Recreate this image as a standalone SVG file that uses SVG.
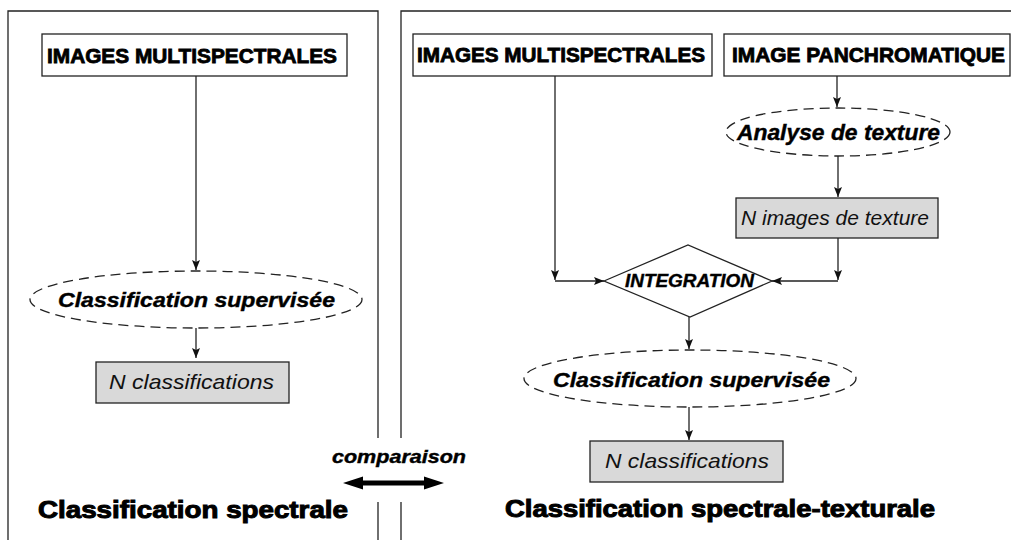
<svg xmlns="http://www.w3.org/2000/svg" width="1011" height="540" viewBox="0 0 1011 540">
<style>
.panel{fill:none;stroke:#222;stroke-width:1.3}
.box{fill:#fff;stroke:#222;stroke-width:1.3}
.gbox{fill:#d9d9d9;stroke:#222;stroke-width:1.3}
.ell{fill:#fff;stroke:#222;stroke-width:1.3;stroke-dasharray:10 6}
.dia{fill:#fff;stroke:#222;stroke-width:1.3}
.hdr{font-family:"Liberation Sans",Arial,sans-serif;font-weight:bold;font-size:20px;fill:#000;stroke:#000;stroke-width:0.8}
.proc{font-family:"Liberation Sans",Arial,sans-serif;font-weight:bold;font-style:italic;font-size:20px;fill:#000;stroke:#000;stroke-width:0.4}
.res{font-family:"Liberation Sans",Arial,sans-serif;font-style:italic;font-size:21px;fill:#111}
.title{font-family:"Liberation Sans",Arial,sans-serif;font-weight:bold;font-size:24px;fill:#000;stroke:#000;stroke-width:1}
.conn{fill:none;stroke:#222;stroke-width:1.3}
</style>
<defs>
<marker id="ah" markerUnits="userSpaceOnUse" markerWidth="12" markerHeight="10" refX="10" refY="4" orient="auto">
<path d="M0,0 L10,4 L0,8 L2,4 z" fill="#111"/>
</marker>
</defs>

<g id="panels">
<path class="panel" d="M378,438 V11 H8 V545"/>
<path class="panel" d="M378,502 V545"/>
<path class="panel" d="M401,438 V11 H1015"/>
<path class="panel" d="M401,502 V545"/>
</g>

<g id="connectors">
<line class="conn" x1="196" y1="76" x2="196" y2="270" marker-end="url(#ah)"/>
<line class="conn" x1="196" y1="328" x2="196" y2="358" marker-end="url(#ah)"/>
<line class="conn" x1="555" y1="76" x2="555" y2="280" marker-end="url(#ah)"/>
<line class="conn" x1="555" y1="281" x2="604" y2="281" marker-end="url(#ah)"/>
<line class="conn" x1="837" y1="76" x2="837" y2="107" marker-end="url(#ah)"/>
<line class="conn" x1="838" y1="156" x2="838" y2="197" marker-end="url(#ah)"/>
<line class="conn" x1="838" y1="238" x2="838" y2="280" marker-end="url(#ah)"/>
<line class="conn" x1="838" y1="281" x2="772" y2="281" marker-end="url(#ah)"/>
<line class="conn" x1="689" y1="317" x2="689" y2="349" marker-end="url(#ah)"/>
<line class="conn" x1="689" y1="407" x2="689" y2="440" marker-end="url(#ah)"/>
<polygon id="comparaison-arrow" fill="#000" points="343,483 363,476.5 363,480.5 424,480.5 424,476.5 444,483 424,489.5 424,485.5 363,485.5 363,489.5"/>
</g>

<g id="left-ms">
<rect class="box" x="42" y="34" width="305" height="42"/>
<text class="hdr" x="47" y="63" textLength="290" lengthAdjust="spacingAndGlyphs">IMAGES MULTISPECTRALES</text>
</g>
<g id="left-classif">
<ellipse class="ell" cx="196" cy="299.5" rx="166" ry="28.5"/>
<text class="proc" x="58" y="307" textLength="277" lengthAdjust="spacingAndGlyphs">Classification supervisée</text>
</g>
<g id="left-result">
<rect class="gbox" x="96" y="362" width="193" height="41"/>
<text class="res" x="109" y="389" textLength="165" lengthAdjust="spacingAndGlyphs">N classifications</text>
</g>
<g id="left-title">
<text class="title" x="38" y="518" textLength="310" lengthAdjust="spacingAndGlyphs">Classification spectrale</text>
</g>

<g id="comparaison">
<text class="proc" style="font-size:18px" x="332" y="463" textLength="134" lengthAdjust="spacingAndGlyphs">comparaison</text>
</g>

<g id="right-ms">
<rect class="box" x="413" y="34" width="299" height="42"/>
<text class="hdr" x="417" y="62" textLength="288" lengthAdjust="spacingAndGlyphs">IMAGES MULTISPECTRALES</text>
</g>
<g id="right-pan">
<rect class="box" x="724" y="34" width="286" height="42"/>
<text class="hdr" x="732" y="62" textLength="273" lengthAdjust="spacingAndGlyphs">IMAGE PANCHROMATIQUE</text>
</g>
<g id="texture-analysis">
<ellipse class="ell" cx="838" cy="132" rx="112" ry="24"/>
<text class="proc" style="font-size:22px" x="737" y="140" textLength="203" lengthAdjust="spacingAndGlyphs">Analyse de texture</text>
</g>
<g id="texture-images">
<rect class="gbox" x="736" y="198" width="202" height="40"/>
<text class="res" style="font-size:20px" x="741" y="225" textLength="188" lengthAdjust="spacingAndGlyphs">N images de texture</text>
</g>
<g id="integration">
<polygon class="dia" points="604,281 688,245 772,281 690,317"/>
<text class="proc" style="font-size:18px" x="625" y="287" textLength="129" lengthAdjust="spacingAndGlyphs">INTEGRATION</text>
</g>
<g id="right-classif">
<ellipse class="ell" cx="690" cy="378.5" rx="166" ry="28.5"/>
<text class="proc" x="553" y="387" textLength="277" lengthAdjust="spacingAndGlyphs">Classification supervisée</text>
</g>
<g id="right-result">
<rect class="gbox" x="590" y="441" width="193" height="41"/>
<text class="res" x="605" y="468" textLength="164" lengthAdjust="spacingAndGlyphs">N classifications</text>
</g>
<g id="right-title">
<text class="title" x="505" y="517" textLength="430" lengthAdjust="spacingAndGlyphs">Classification spectrale-texturale</text>
</g>
</svg>
